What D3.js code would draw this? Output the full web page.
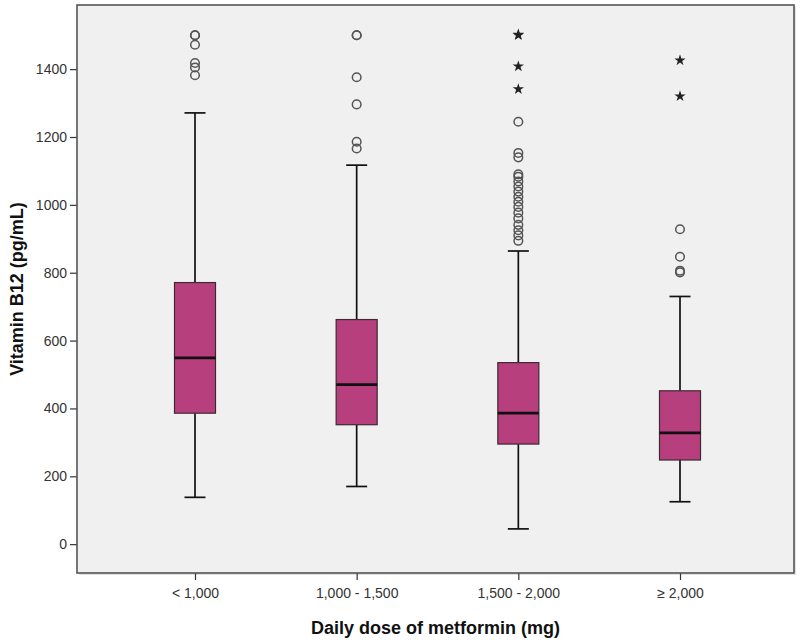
<!DOCTYPE html>
<html>
<head>
<meta charset="utf-8">
<script src="https://cdn.jsdelivr.net/npm/d3@7"></script>
<style>
  html, body { margin: 0; padding: 0; background: #ffffff; }
  svg { display: block; }
</style>
</head>
<body>
<svg id="chart" width="800" height="643"></svg>
<script>
// ---- Data ----
const categories = ["< 1,000", "1,000 - 1,500", "1,500 - 2,000", "\u2265 2,000"];
const lowerWhisker = [138, 170, 45, 125];
const q1 = [386, 352, 295, 248];
const median = [549, 470, 386, 328];
const q3 = [771, 662, 535, 452];
const upperWhisker = [1271, 1117, 864, 730];
const outlierCircles = [
  [1500, 1500, 1472, 1418, 1405, 1382],
  [1500, 1500, 1376, 1296, 1186, 1166],
  [1245, 1153, 1140, 1090, 1083, 1069, 1054, 1039, 1024, 1009, 994, 977, 960, 941, 925, 910, 894],
  [928, 847, 806, 801]
];
const extremeStars = [
  [],
  [],
  [1502, 1500, 1408, 1341],
  [1426, 1320]
];
const yTickValues = [0, 200, 400, 600, 800, 1000, 1200, 1400];
const xTitle = "Daily dose of metformin (mg)";
const yTitle = "Vitamin B12 (pg/mL)";

// ---- Layout ----
const frame = { left: 77, right: 794, top: 5, bottom: 573 };
const boxW = 41, capW = 21;
const boxFill = "#b83f7e";

const svg = d3.select("#chart");

const x = d3.scalePoint()
  .domain(categories)
  .range([frame.left + 118, frame.right - 114]);

const y = d3.scaleLinear()
  .domain([-85, 1589])
  .range([frame.bottom, frame.top]);

// frame shadow + plot background
svg.append("rect")
  .attr("x", frame.left + 2).attr("y", frame.top + 2)
  .attr("width", frame.right - frame.left).attr("height", frame.bottom - frame.top)
  .attr("fill", "#e2e2e2");
svg.append("rect")
  .attr("x", frame.left).attr("y", frame.top)
  .attr("width", frame.right - frame.left).attr("height", frame.bottom - frame.top)
  .attr("fill", "#f0f0f0");

// Y axis
const yAxis = svg.append("g")
  .attr("transform", `translate(${frame.left},0)`)
  .call(d3.axisLeft(y).tickValues(yTickValues).tickSize(7).tickPadding(3).tickFormat(d3.format("d")));
yAxis.select(".domain").remove();
yAxis.selectAll(".tick line").attr("stroke", "#333").attr("stroke-width", 1.2);
yAxis.selectAll(".tick text")
  .attr("fill", "#333")
  .style("font-family", "'Liberation Sans', Arial, sans-serif")
  .style("font-size", "14px");

// X axis
const xAxis = svg.append("g")
  .attr("transform", `translate(0,${frame.bottom})`)
  .call(d3.axisBottom(x).tickSize(7).tickPadding(8));
xAxis.select(".domain").remove();
xAxis.selectAll(".tick line").attr("stroke", "#333").attr("stroke-width", 1.2);
xAxis.selectAll(".tick text")
  .attr("fill", "#333")
  .style("font-family", "'Liberation Sans', Arial, sans-serif")
  .style("font-size", "14px");

// Boxes
const groups = categories.map((c, i) => ({
  cat: c, lo: lowerWhisker[i], q1: q1[i], med: median[i], q3: q3[i], hi: upperWhisker[i],
  circles: outlierCircles[i], stars: extremeStars[i]
}));

const g = svg.append("g");
groups.forEach(d => {
  const cx = x(d.cat);
  g.append("line").attr("x1", cx).attr("x2", cx).attr("y1", y(d.hi)).attr("y2", y(d.q3))
    .attr("stroke", "#111").attr("stroke-width", 1.7);
  g.append("line").attr("x1", cx).attr("x2", cx).attr("y1", y(d.q1)).attr("y2", y(d.lo))
    .attr("stroke", "#111").attr("stroke-width", 1.7);
  g.append("line").attr("x1", cx - capW / 2).attr("x2", cx + capW / 2).attr("y1", y(d.hi)).attr("y2", y(d.hi))
    .attr("stroke", "#111").attr("stroke-width", 1.7);
  g.append("line").attr("x1", cx - capW / 2).attr("x2", cx + capW / 2).attr("y1", y(d.lo)).attr("y2", y(d.lo))
    .attr("stroke", "#111").attr("stroke-width", 1.7);
  g.append("rect")
    .attr("x", cx - boxW / 2).attr("y", y(d.q3))
    .attr("width", boxW).attr("height", y(d.q1) - y(d.q3))
    .attr("fill", boxFill).attr("stroke", "#3a2a32").attr("stroke-width", 1.2);
  g.append("line").attr("x1", cx - boxW / 2).attr("x2", cx + boxW / 2).attr("y1", y(d.med)).attr("y2", y(d.med))
    .attr("stroke", "#111").attr("stroke-width", 2.8);
  d.circles.forEach(v => {
    g.append("circle").attr("cx", cx).attr("cy", y(v)).attr("r", 4.3)
      .attr("fill", "none").attr("stroke", "#555").attr("stroke-width", 1.5);
  });
  d.stars.forEach(v => {
    g.append("path")
      .attr("d", d3.symbol(d3.symbolStar, 40)())
      .attr("transform", `translate(${cx},${y(v)})`)
      .attr("fill", "#222");
  });
});

// Frame border
svg.append("rect")
  .attr("x", frame.left).attr("y", frame.top)
  .attr("width", frame.right - frame.left).attr("height", frame.bottom - frame.top)
  .attr("fill", "none").attr("stroke", "#555").attr("stroke-width", 1.6);

// Titles
svg.append("text")
  .attr("x", (frame.left + frame.right) / 2).attr("y", 634)
  .attr("text-anchor", "middle")
  .attr("fill", "#111")
  .style("font-family", "'Liberation Sans', Arial, sans-serif")
  .style("font-size", "18px").style("font-weight", "bold")
  .text(xTitle);

svg.append("text")
  .attr("transform", `translate(23,${(frame.top + frame.bottom) / 2}) rotate(-90)`)
  .attr("text-anchor", "middle")
  .attr("fill", "#111")
  .style("font-family", "'Liberation Sans', Arial, sans-serif")
  .style("font-size", "18px").style("font-weight", "bold")
  .text(yTitle);
</script>
</body>
</html>
